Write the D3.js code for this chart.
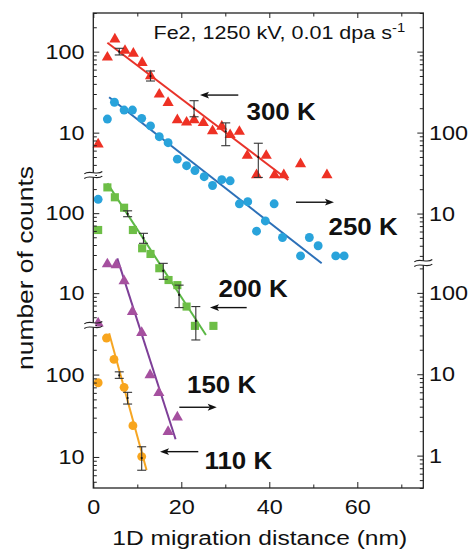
<!DOCTYPE html>
<html>
<head>
<meta charset="utf-8">
<script src="https://cdn.jsdelivr.net/npm/d3@7"></script>
<style>
  body { margin: 0; background: #fff; }
</style>
</head>
<body>
<div id="chart"></div>
<script>
// ---- data (x in nm, y = number of counts) ----
var dist300  = [1.1, 3.2, 4.9, 7.2, 9.1, 11.1, 13.0, 15.0, 17.0, 19.1, 21.2, 22.9, 25.0, 27.1, 29.2, 31.1, 33.2, 35.0, 37.1, 39.3, 41.2, 43.3, 47.1, 53.1];
var count300 = [7.2, 85, 142, 103, 95, 73, 50, 29.7, 23.4, 14.3, 13.4, 14.3, 13.2, 10.5, 11.9, 9.4, 10.3, 5.2, 3.0, 5.2, 3.0, 3.0, 4.1, 3.0];
var fit300X = [3.2, 44.3];
var fit300Y = [129, 2.6];
var err300X  = [5.9, 13.0, 22.9, 30.1, 37.5];
var err300Mid = [100, 50, 19.8, 10.4, 5.0];
var err300Lo = [91, 43.4, 15.7, 6.9, 2.8];
var err300Hi = [110, 57.7, 24.8, 13.2, 7.4];

var dist250  = [1.1, 3.2, 4.8, 7.0, 8.9, 11.0, 13.0, 15.0, 17.0, 19.1, 21.2, 23.1, 25.2, 27.1, 29.2, 31.1, 33.2, 35.1, 37.1, 39.1, 41.1, 43.0, 47.1, 49.1, 51.1, 55.1, 57.0];
var count250 = [15, 147, 237, 190, 190, 150, 121, 89, 75, 47, 39, 34, 28.5, 22.2, 26.2, 25.4, 13.2, 14, 6.05, 8.1, 13.2, 5.06, 3.0, 5.06, 4.0, 3.0, 3.0];
var fit250X = [3.6, 51.9];
var fit250Y = [273, 2.43];

var dist200  = [1.1, 3.2, 4.9, 7.0, 9.0, 11.1, 13.0, 15.0, 17.1, 19.1, 21.2, 23.1, 27.3];
var count200 = [61.6, 210, 158, 117, 61.6, 36.4, 30.9, 20.5, 14.6, 12.6, 6.8, 3.9, 3.9];
var fit200X = [3.2, 25.6];
var fit200Y = [236, 3.0];
var err200X  = [7.8, 11.4, 15.9, 19.5, 23.3];
var err200Mid = [98, 49, 19, 9.5, 4.5];
var err200Lo = [90.3, 42, 14.9, 6.6, 2.6];
var err200Hi = [107, 56, 23.6, 12.6, 6.8];

var dist150  = [1.1, 3.2, 5.2, 7.0, 8.9, 11.0, 12.9, 14.9, 17.0, 19.1];
var count150 = [42.3, 226, 220, 140, 58.8, 32.4, 9.8, 5.9, 1.97, 2.96];
var fit150X = [5.45, 18.7];
var fit150Y = [266, 1.59];

var dist110  = [1.1, 3.0, 4.7, 7.0, 9.0, 11.0];
var count110 = [79.6, 278, 153, 70, 24, 10.1];
var fit110X = [3.6, 12.1];
var fit110Y = [317, 6.95];
var err110X  = [5.9, 7.8, 11.0];
var err110Mid = [98, 52, 9.7];
var err110Lo = [90, 43.9, 6.9];
var err110Hi = [108, 60.9, 13.3];

// annotations: temperature labels with arrows pointing at the axis used
var labelText  = ['300 K', '250 K', '200 K', '150 K', '110 K'];
var labelPanel = ['L1', 'R1', 'L2', 'R2', 'L3'];
var arrowY     = [29.1, 13.8, 6.6, 3.93, 11.6];
var arrowFrom  = [32.95, 46.07, 34.86, 19.55, 23.86];
var arrowTo    = [24.25, 54.7, 26.52, 28.05, 15.16];
var labelX     = [34.82, 53.45, 28.45, 21.3, 25.25];
var labelY     = [14.5, 5.51, 9.03, 5.84, 7.14];

var xTicks = [0, 20, 40, 60];
var xMinorTicks = [10, 30, 50, 70];

// ---- layout ----
var width = 473, height = 552;
var plotLeft = 93.3, plotRight = 423.3, plotTop = 13, plotBottom = 488;
var FONT = '"Liberation Sans", Arial, Helvetica, sans-serif';
var INK = '#222';

var svg = d3.select('#chart').append('svg')
    .attr('width', width)
    .attr('height', height);

var x = d3.scaleLinear().domain([0, 75]).range([plotLeft, plotRight]);

// broken log axes: three panels on the left, two on the right
var panels = {
    L1: d3.scaleLog().domain([3, 300]).range([175, plotTop]),
    L2: d3.scaleLog().domain([4, 300]).range([325, 175]),
    L3: d3.scaleLog().domain([4.2, 400]).range([plotBottom, 325]),
    R1: d3.scaleLog().domain([2.45, 3000]).range([263, plotTop]),
    R2: d3.scaleLog().domain([0.4, 233]).range([plotBottom, 263])
};

var series = [
    {panel: 'L1', shape: d3.symbolTriangle, size: 54, mark: '#EE3124', line: '#E8332A',
     xs: dist300, ys: count300, fx: fit300X, fy: fit300Y,
     ex: err300X, em: err300Mid, elo: err300Lo, ehi: err300Hi},
    {panel: 'R1', shape: d3.symbolCircle, size: 62, mark: '#29A3DB', line: '#2C70B8',
     xs: dist250, ys: count250, fx: fit250X, fy: fit250Y},
    {panel: 'L2', shape: d3.symbolSquare, size: 66, mark: '#6DBE46', line: '#5CB846',
     xs: dist200, ys: count200, fx: fit200X, fy: fit200Y,
     ex: err200X, em: err200Mid, elo: err200Lo, ehi: err200Hi},
    {panel: 'R2', shape: d3.symbolTriangle, size: 54, mark: '#A5509F', line: '#7E3F98',
     xs: dist150, ys: count150, fx: fit150X, fy: fit150Y},
    {panel: 'L3', shape: d3.symbolCircle, size: 62, mark: '#F8A51D', line: '#F6A623',
     xs: dist110, ys: count110, fx: fit110X, fy: fit110Y,
     ex: err110X, em: err110Mid, elo: err110Lo, ehi: err110Hi}
];

function textAt(g, px, py, str, size, sx, anchor, weight) {
    return g.append('text')
        .attr('transform', 'translate(' + px + ',' + py + ') scale(' + sx + ',1)')
        .attr('text-anchor', anchor || 'start')
        .style('font-family', FONT)
        .style('font-size', size + 'px')
        .style('font-weight', weight || 'normal')
        .attr('fill', '#111')
        .text(str);
}

function logTicks(dom) {
    var major = [], minor = [];
    var k0 = Math.floor(Math.log10(dom[0])), k1 = Math.ceil(Math.log10(dom[1]));
    for (var k = k0; k <= k1; k++) {
        for (var m = 1; m <= 9; m++) {
            var v = +(m * Math.pow(10, k)).toPrecision(6);
            if (v < dom[0] * 0.999 || v > dom[1] * 1.001) continue;
            (m === 1 ? major : minor).push(v);
        }
    }
    return {major: major, minor: minor};
}

// ---- fitted lines, markers, error bars ----
var plot = svg.append('g');

series.forEach(function (s) {
    var y = panels[s.panel];
    plot.append('path')
        .datum(d3.zip(s.fx, s.fy))
        .attr('d', d3.line().x(function (d) { return x(d[0]); }).y(function (d) { return y(d[1]); }))
        .attr('fill', 'none')
        .attr('stroke', s.line)
        .attr('stroke-width', 2);
});

series.forEach(function (s) {
    var y = panels[s.panel];
    plot.append('g').selectAll('path')
        .data(d3.zip(s.xs, s.ys))
        .enter().append('path')
        .attr('transform', function (d) { return 'translate(' + x(d[0]) + ',' + y(d[1]) + ')'; })
        .attr('d', d3.symbol().type(s.shape).size(s.size))
        .attr('fill', s.mark);
});

series.forEach(function (s) {
    if (!s.ex) return;
    var y = panels[s.panel];
    var bars = plot.append('g').selectAll('g')
        .data(s.ex.map(function (v, i) { return {x: v, m: s.em[i], lo: s.elo[i], hi: s.ehi[i]}; }))
        .enter().append('g')
        .attr('stroke', '#333')
        .attr('stroke-width', 1.1);
    bars.append('line')
        .attr('x1', function (d) { return x(d.x); }).attr('x2', function (d) { return x(d.x); })
        .attr('y1', function (d) { return y(d.lo); }).attr('y2', function (d) { return y(d.hi); });
    bars.append('line')
        .attr('x1', function (d) { return x(d.x) - 4.5; }).attr('x2', function (d) { return x(d.x) + 4.5; })
        .attr('y1', function (d) { return y(d.lo); }).attr('y2', function (d) { return y(d.lo); });
    bars.append('line')
        .attr('x1', function (d) { return x(d.x) - 4.5; }).attr('x2', function (d) { return x(d.x) + 4.5; })
        .attr('y1', function (d) { return y(d.hi); }).attr('y2', function (d) { return y(d.hi); });
    bars.append('circle')
        .attr('cx', function (d) { return x(d.x); })
        .attr('cy', function (d) { return y(d.m); })
        .attr('r', 1.1)
        .attr('stroke', 'none')
        .attr('fill', '#111');
});

// ---- frame and axes ----
svg.append('rect')
    .attr('x', plotLeft).attr('y', plotTop)
    .attr('width', plotRight - plotLeft).attr('height', plotBottom - plotTop)
    .attr('fill', 'none')
    .attr('stroke', INK)
    .attr('stroke-width', 1.3);

function styleAxis(g) {
    g.select('.domain').remove();
    g.attr('font-family', null).attr('font-size', null);
    g.selectAll('line').attr('stroke', INK).attr('stroke-width', 1);
    return g;
}

function labelFormat(d) { return d >= 1000 ? '' : String(d); }

Object.keys(panels).forEach(function (key) {
    var s = panels[key], t = logTicks(s.domain());
    var left = key.charAt(0) === 'L';
    var ax = left ? d3.axisLeft : d3.axisRight;
    var pos = left ? plotLeft : plotRight;
    styleAxis(svg.append('g').attr('transform', 'translate(' + pos + ',0)')
        .call(ax(s).tickValues(t.minor).tickSize(-3.5).tickFormat('')));
    var g = styleAxis(svg.append('g').attr('transform', 'translate(' + pos + ',0)')
        .call(ax(s).tickValues(t.major).tickSize(-6).tickFormat(labelFormat)));
    g.selectAll('text')
        .attr('x', null).attr('dy', null)
        .attr('text-anchor', left ? 'end' : 'start')
        .attr('transform', left ? 'translate(-8.8,6.6) scale(1.2,1)' : 'translate(5.8,6.6) scale(1.2,1)')
        .style('font-family', FONT)
        .style('font-size', '19.5px')
        .attr('fill', '#111');
});

styleAxis(svg.append('g').attr('transform', 'translate(0,' + plotBottom + ')')
    .call(d3.axisBottom(x).tickValues(xMinorTicks).tickSize(-3.5).tickFormat('')));
var xg = styleAxis(svg.append('g').attr('transform', 'translate(0,' + plotBottom + ')')
    .call(d3.axisBottom(x).tickValues(xTicks).tickSize(-6)));
xg.selectAll('text')
    .attr('y', null).attr('dy', null)
    .attr('transform', 'translate(0,26) scale(1.2,1)')
    .style('font-family', FONT)
    .style('font-size', '19.5px')
    .attr('fill', '#111');
styleAxis(svg.append('g').attr('transform', 'translate(0,' + plotTop + ')')
    .call(d3.axisTop(x).tickValues(xMinorTicks).tickSize(-3.5).tickFormat('')));
styleAxis(svg.append('g').attr('transform', 'translate(0,' + plotTop + ')')
    .call(d3.axisTop(x).tickValues(xTicks).tickSize(-5).tickFormat('')));

// axis break marks
function drawBreak(ax, by) {
    svg.append('rect')
        .attr('x', ax - 2).attr('y', by - 2.2)
        .attr('width', 4).attr('height', 4.4)
        .attr('fill', '#fff');
    [-2.3, 2.3].forEach(function (o) {
        var yy = by + o;
        svg.append('path')
            .attr('d', 'M' + (ax - 9) + ',' + (yy + 1.2) +
                  ' C' + (ax - 4) + ',' + (yy - 3.2) + ' ' + (ax + 4) + ',' + (yy + 3.2) +
                  ' ' + (ax + 9) + ',' + (yy - 1.2))
            .attr('fill', 'none')
            .attr('stroke', INK)
            .attr('stroke-width', 1.1);
    });
}
drawBreak(plotLeft, panels.L1.range()[0]);
drawBreak(plotLeft, panels.L2.range()[0]);
drawBreak(plotRight, panels.R1.range()[0]);

// ---- annotations ----
var notes = svg.append('g');
labelText.forEach(function (txt, i) {
    var y = panels[labelPanel[i]];
    var yy = y(arrowY[i]);
    var x0 = x(arrowFrom[i]), x1 = x(arrowTo[i]);
    var dir = x1 > x0 ? 1 : -1;
    notes.append('line')
        .attr('x1', x0).attr('x2', x1 - dir * 7)
        .attr('y1', yy).attr('y2', yy)
        .attr('stroke', '#111')
        .attr('stroke-width', 1.4);
    notes.append('path')
        .attr('d', 'M' + x1 + ',' + yy + ' L' + (x1 - dir * 9) + ',' + (yy - 3.4) +
              ' L' + (x1 - dir * 7) + ',' + yy + ' L' + (x1 - dir * 9) + ',' + (yy + 3.4) + 'Z')
        .attr('fill', '#111');
    textAt(notes, x(labelX[i]), y(labelY[i]), txt, 24, 1.08, 'start', 'bold');
});

var title = textAt(svg, 153.5, 39.3, 'Fe2, 1250 kV, 0.01 dpa s', 17.5, 1.23, 'start');
title.append('tspan').attr('dy', -7).style('font-size', '12px').text('-1');

textAt(svg, 112.3, 545, '1D migration distance (nm)', 21, 1.17, 'start');
svg.append('text')
    .attr('transform', 'translate(33,268) rotate(-90) scale(1.2,1)')
    .attr('text-anchor', 'middle')
    .style('font-family', FONT)
    .style('font-size', '22px')
    .attr('fill', '#111')
    .text('number of counts');
</script>
</body>
</html>
